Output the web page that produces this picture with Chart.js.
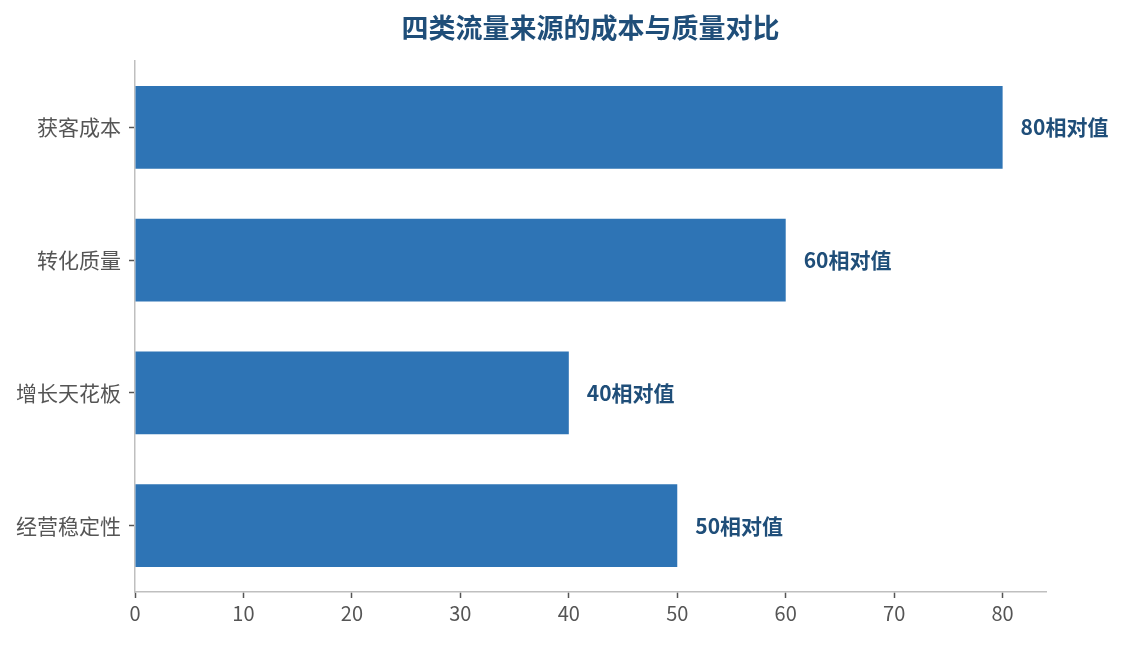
<!DOCTYPE html>
<html>
<head>
<meta charset="utf-8">
<script src="https://cdn.jsdelivr.net/npm/chart.js@4.4.1/dist/chart.umd.min.js"></script>
<style>
  html, body { margin: 0; padding: 0; background: #fff; }
  #wrap { width: 1124px; height: 645px; }
</style>
</head>
<body>
<div id="wrap"><canvas id="chart" width="1124" height="645"></canvas></div>
<script>
// values
const titleText = "四类流量来源的成本与质量对比"
const categories = ["获客成本", "转化质量", "增长天花板", "经营稳定性"]
const values = [80, 60, 40, 50]
const valueSuffix = "相对值"
const axisMax = 84

const fontFamily = "'Noto Sans CJK SC', 'Noto Sans', sans-serif"
const barColor = "#2e74b5"
const labelColor = "#1f4e79"

// title is centred over the plot area, not the canvas
const titlePlugin = {
  id: "plotTitle",
  afterDraw(chart) {
    const { ctx, chartArea } = chart
    ctx.save()
    ctx.font = `bold 27px ${fontFamily}`
    ctx.fillStyle = labelColor
    ctx.textAlign = "center"
    ctx.textBaseline = "middle"
    ctx.fillText(titleText, (chartArea.left + chartArea.right) / 2, 28)
    ctx.restore()
  },
}

const valueLabels = {
  id: "valueLabels",
  afterDatasetsDraw(chart) {
    const { ctx } = chart
    const meta = chart.getDatasetMeta(0)
    ctx.save()
    ctx.font = `bold 21px ${fontFamily}`
    ctx.fillStyle = labelColor
    ctx.textAlign = "left"
    ctx.textBaseline = "middle"
    meta.data.forEach((bar, i) => {
      ctx.fillText(`${values[i]}${valueSuffix}`, bar.x + 18, bar.y)
    })
    ctx.restore()
  },
}

new Chart(document.getElementById("chart"), {
  type: "bar",
  data: {
    labels: categories,
    datasets: [
      {
        data: values,
        backgroundColor: barColor,
        barPercentage: 0.625,
        categoryPercentage: 1,
      },
    ],
  },
  options: {
    indexAxis: "y",
    responsive: false,
    animation: false,
    devicePixelRatio: 1,
    layout: { padding: { top: 61, right: 78, bottom: 0, left: 0 } },
    plugins: {
      legend: { display: false },
      tooltip: { enabled: false },
    },
    scales: {
      x: {
        min: 0,
        max: axisMax,
        afterFit(scale) { scale.height = 53 },
        ticks: {
          stepSize: 10,
          includeBounds: false,
          color: "#555555",
          padding: 3,
          font: { family: fontFamily, size: 20 },
        },
        grid: { drawOnChartArea: false, tickLength: 6, tickColor: "#555555", tickWidth: 1.5 },
        border: { color: "#bfbfbf", width: 1.5 },
      },
      y: {
        afterFit(scale) { scale.width = 135 },
        ticks: {
          color: "#555555",
          padding: 8,
          font: { family: fontFamily, size: 21 },
        },
        grid: { offset: false, drawOnChartArea: false, tickLength: 6, tickColor: "#555555", tickWidth: 1.5 },
        border: { color: "#bfbfbf", width: 1.5 },
      },
    },
  },
  plugins: [titlePlugin, valueLabels],
})
</script>
</body>
</html>
